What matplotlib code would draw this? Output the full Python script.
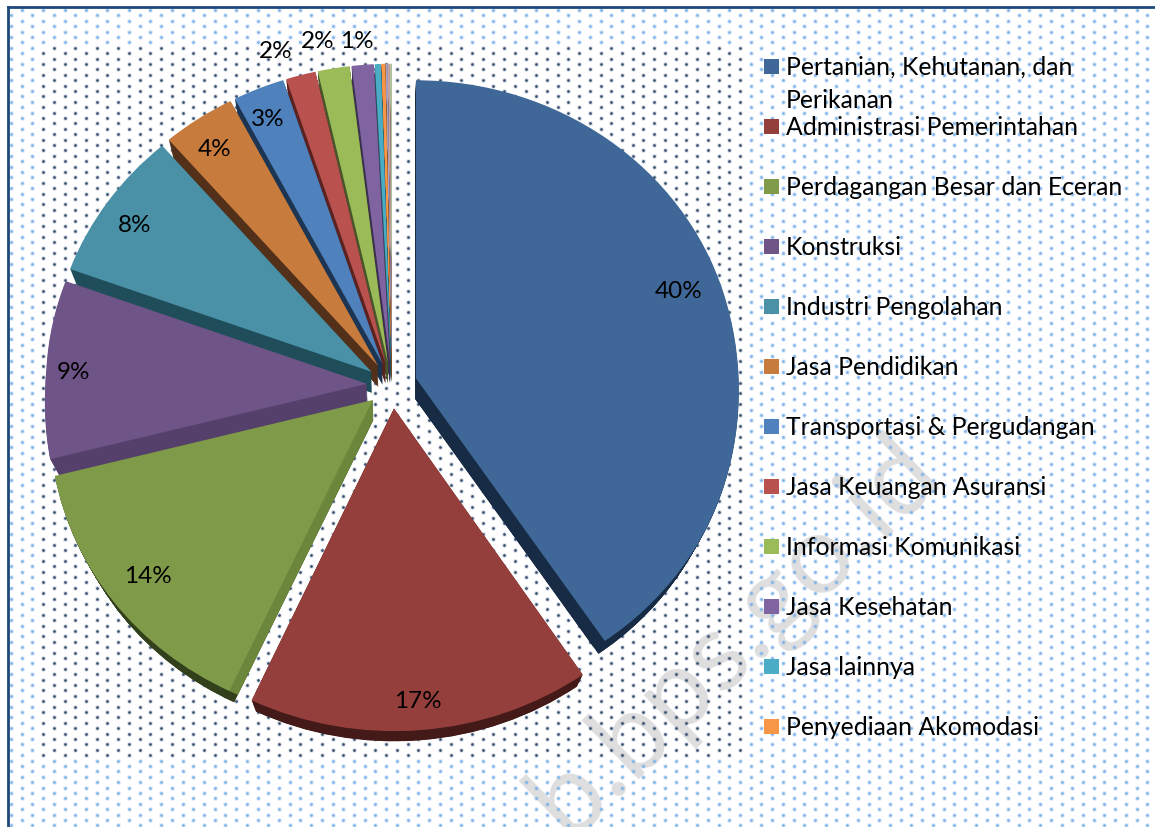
"""Exploded 3D-look pie of employment by sector, on a dotted background."""

import matplotlib

matplotlib.use("Agg")

import matplotlib.pyplot as plt
import numpy as np
from matplotlib.transforms import Transform

plt.rcParams["font.family"] = ["Lato", "DejaVu Sans"]

W, H = 1155, 828

# Sizes; last three slivers have no legend entry
shares = [40.7, 16.1, 14.2, 9.6, 8.1, 3.7, 2.6, 1.5, 1.6, 1.1, 0.3, 0.2, 0.1, 0.1, 0.1]
pct_labels = ["40%", "17%", "14%", "9%", "8%", "4%", "3%", "2%", "2%", "1%"]
legend_labels = [
    "Pertanian, Kehutanan, dan\nPerikanan",
    "Administrasi Pemerintahan",
    "Perdagangan Besar dan Eceran",
    "Konstruksi",
    "Industri Pengolahan",
    "Jasa Pendidikan",
    "Transportasi & Pergudangan",
    "Jasa Keuangan Asuransi",
    "Informasi Komunikasi",
    "Jasa Kesehatan",
    "Jasa lainnya",
    "Penyediaan Akomodasi",
]

top_colors = ["#3f6797", "#953f3c", "#7f9a48", "#6f5488", "#4a91a8", "#c77c3d",
              "#4f81bd", "#b9524f", "#9bbb59", "#8064a2", "#4bacc6", "#f79646",
              "#a9a1c4", "#c9a5a0", "#b4c4a0"]
rim_colors = ["#172c44", "#431a18", "#33401c", "#54406b", "#1f4d5a", "#52301a",
              "#1c3553", "#5c2220", "#46562a", "#3d2f50", "#23525e", "#7a4a20",
              "#77718c", "#8c7370", "#7e8970"]
side_colors = list(rim_colors)
side_colors[2] = "#6c873c"  # green's cut face is much lighter than its rim

pct_xy = [(679, 292), (418, 702), (148, 577), (74, 373), (135, 225), (215, 149),
          (268, 120), (276, 51), (318, 42), (357, 41)]

# Pie geometry in pixels
CX, CY, RX, RY = 392, 386, 321, 298
EXPLODE = 0.078
NEAR_GROW = 0.072  # the near half of the pie is drawn larger
FAR_SHRINK = 0.03  # the underside is smaller than the top face
DROP = 20.6  # pixels from top face to underside


class PiePerspective(Transform):
    """Tilt for the pie; level 0 is the top face, level 1 the underside."""

    input_dims = output_dims = 2
    is_separable = False

    def __init__(self, level):
        super().__init__()
        self.level = level

    def transform_non_affine(self, values):
        values = np.asarray(values, dtype=float)
        grow = 1 + NEAR_GROW * np.maximum(-values[:, 1], 0)
        shrink = 1 - FAR_SHRINK * self.level
        return np.column_stack((values[:, 0] * grow * shrink,
                                values[:, 1] * grow * shrink - self.level * DROP / RY))


fig = plt.figure(figsize=(W / 100, H / 100), dpi=100, facecolor="white")

bg = fig.add_axes([0, 0, 1, 1], zorder=0)
bg.set_xlim(0, W)
bg.set_ylim(H, 0)
bg.axis("off")

bg.text(734, 636, "b.bps.go.id", fontsize=80, color="#dedede", rotation=44,
        ha="center", va="center", rotation_mode="anchor", zorder=1)

# Staggered dot pattern: dark inside a rectangle, blue outside it
dot_x, dot_y = [], []
for col, x in enumerate(np.arange(11, W + 5, 10.72)):
    offset = 0 if col % 2 else 5.4
    for y in np.arange(11 + offset, H + 5, 10.8):
        dot_x.append(x)
        dot_y.append(y)
dot_x = np.array(dot_x)
dot_y = np.array(dot_y)
inner = (dot_x > 40) & (dot_x < 745) & (dot_y > 45) & (dot_y < 758)
bg.scatter(dot_x[~inner], dot_y[~inner], s=14, color="#7ab0e8", alpha=0.2, linewidths=0, zorder=2)
bg.scatter(dot_x[~inner], dot_y[~inner], s=4, color="#7eb2ea", linewidths=0, zorder=3)
bg.scatter(dot_x[inner], dot_y[inner], s=13, color="#3c5a7d", alpha=0.16, linewidths=0, zorder=2)
bg.scatter(dot_x[inner], dot_y[inner], s=4, color="#3c5474", linewidths=0, zorder=3)

bg.plot([8, 8], [H, 8], color="#1f497d", lw=2, zorder=4)
bg.plot([8, W], [8, 8], color="#1f497d", lw=2, zorder=4)

ax = fig.add_axes([0, 0, 1, 1], zorder=1)
ax.patch.set_alpha(0)

# Back slices are painted first so front slices sit on top of their sides
fractions = np.array(shares) / sum(shares)
mids = (np.cumsum(fractions) - fractions / 2) * 2 * np.pi
paint_rank = np.argsort(np.argsort(-np.cos(mids)))
explode = [EXPLODE] * len(shares)


def draw_layer(colors, radius, level, z_step):
    wedges, _ = ax.pie(shares, colors=colors, explode=explode, radius=radius,
                       startangle=90, counterclock=False, wedgeprops={"linewidth": 0})
    for wedge, rank in zip(wedges, paint_rank):
        wedge.set_transform(PiePerspective(level) + ax.transData)
        wedge.set_zorder(10 + rank + z_step)


levels = np.linspace(1, 0.03, 30)
for level in levels:
    draw_layer(rim_colors, 1.0, level, 0.1)
for level in levels:
    draw_layer(side_colors, 0.975, level, 0.2)
draw_layer(top_colors, 1.0, 0, 0.5)

ax.set_aspect("auto")
ax.set_xlim(-CX / RX, (W - CX) / RX)
ax.set_ylim(-(H - CY) / RY, CY / RY)

for label, (x, y) in zip(pct_labels, pct_xy):
    fig.text(x / W, 1 - y / H, label, fontsize=17.5, color="black", ha="center", va="center", zorder=5)

# Legend: wrapped first entry, then a fixed row pitch
for i, (label, color) in enumerate(zip(legend_labels, top_colors)):
    row_y = 67 + 60 * i
    bg.add_patch(plt.Rectangle((764, row_y - 7), 15, 15, facecolor=color, edgecolor="none", zorder=5))
    fig.text(786 / W, 1 - (row_y - 11) / H, label, fontsize=17.8, color="black", ha="left", va="top",
             linespacing=1.54, zorder=5)

fig.savefig("out.png", dpi=100)
